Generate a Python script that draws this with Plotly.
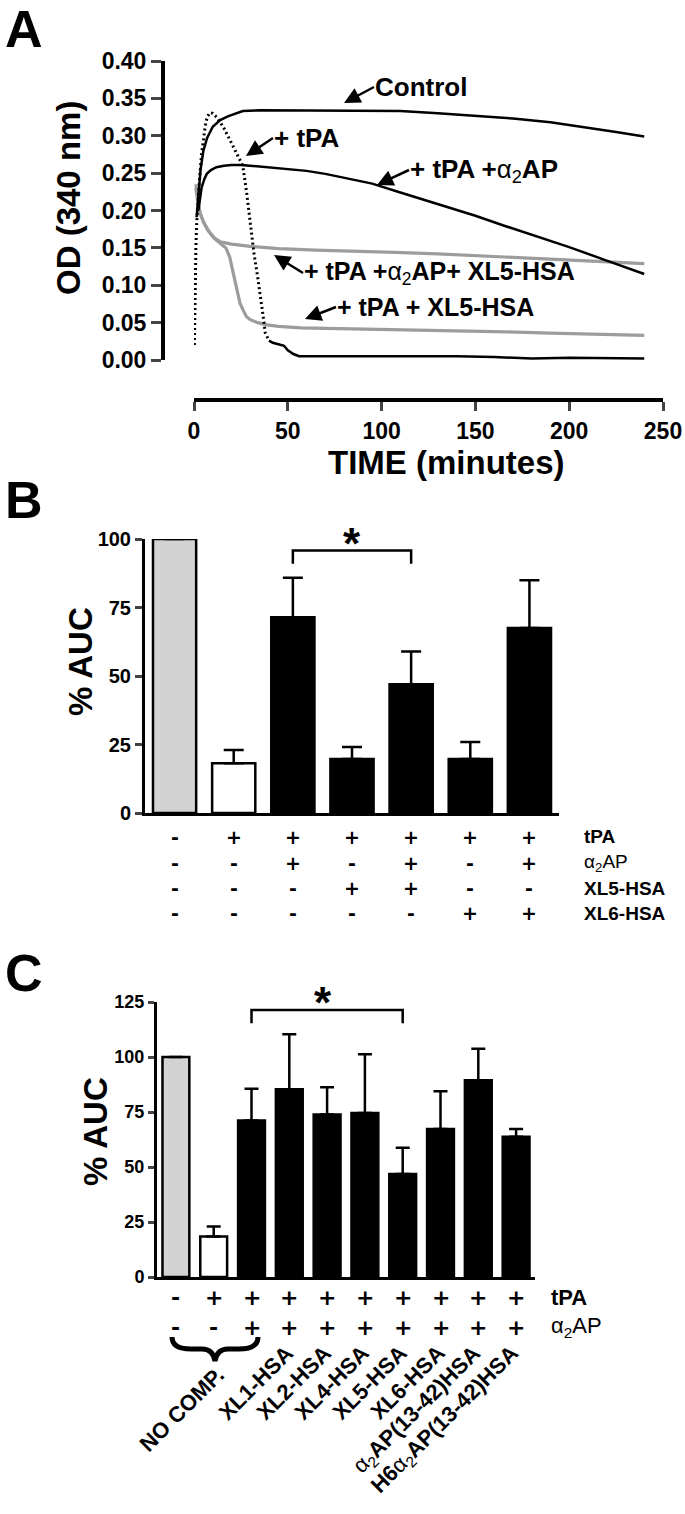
import plotly.graph_objects as go

W, H = 685, 1514
FONT = "Liberation Sans, Arial, Helvetica, sans-serif"
SIGN_FONT = "DejaVu Sans, Liberation Sans, sans-serif"

# ---------------- Panel A data (time in minutes, OD 340 nm) ----------------
ctrl_t = [1.4, 2.5, 3.5, 5, 7, 10, 14, 18, 22, 26, 35, 50, 70, 90, 110, 130, 150, 170, 190, 210, 225, 240]
ctrl_od = [0.191, 0.225, 0.255, 0.280, 0.297, 0.312, 0.321, 0.326, 0.330, 0.333, 0.334, 0.334, 0.334, 0.334,
           0.333, 0.330, 0.327, 0.323, 0.318, 0.311, 0.305, 0.299]

tpa_t = [0.2, 0.4, 0.6, 1.0, 1.4, 2.2, 3.2, 4.0, 5.0, 6.0, 7.0, 8.5, 10, 12, 14, 16, 18, 20, 22, 24,
         26, 28, 30, 32, 34, 36, 37, 38, 40, 42, 45, 48, 50, 53, 56, 60, 80, 100, 120, 140,
         160, 180, 200, 220, 240]
tpa_od = [0.020, 0.060, 0.115, 0.150, 0.182, 0.220, 0.250, 0.275, 0.298, 0.313, 0.325, 0.331, 0.330, 0.325,
          0.318, 0.310, 0.300, 0.290, 0.280, 0.272, 0.260, 0.225, 0.180, 0.142, 0.110, 0.078, 0.056, 0.036,
          0.026, 0.023, 0.021, 0.019, 0.013, 0.008, 0.005, 0.005, 0.006, 0.005, 0.006, 0.005,
          0.004, 0.002, 0.003, 0.002, 0.002]

a2ap_t = [2.3, 3, 4.1, 5.5, 6.8, 9, 12, 16, 20, 25, 30, 40, 50, 60, 70, 80, 95, 110, 130, 150, 165, 180, 200, 220, 240]
a2ap_od = [0.200, 0.215, 0.231, 0.242, 0.249, 0.254, 0.258, 0.260, 0.261, 0.261, 0.260, 0.258, 0.256, 0.253,
           0.249, 0.244, 0.236, 0.224, 0.209, 0.193, 0.180, 0.168, 0.151, 0.133, 0.115]

a2ap_xl5_t = [1.0, 1.6, 2.4, 3.2, 5, 7, 8.5, 11, 14, 20, 30, 45, 65, 85, 107, 130, 155, 177, 200, 220, 240]
a2ap_xl5_od = [0.235, 0.223, 0.210, 0.197, 0.185, 0.175, 0.170, 0.163, 0.158, 0.155, 0.152, 0.149, 0.147,
               0.146, 0.144, 0.142, 0.139, 0.137, 0.134, 0.131, 0.129]

xl5_t = [1.0, 1.6, 2.4, 3.2, 5, 8, 10, 12, 14.5, 17, 19, 21, 23, 24.5, 26.5, 28, 30, 34, 39, 45, 57,
         80, 100, 130, 160, 190, 215, 240]
xl5_od = [0.230, 0.215, 0.205, 0.197, 0.185, 0.172, 0.165, 0.160, 0.155, 0.150, 0.138, 0.116, 0.092, 0.076,
          0.065, 0.058, 0.054, 0.050, 0.047, 0.045, 0.043, 0.042, 0.041, 0.040, 0.038, 0.036, 0.035, 0.033]

a_x_ticks = [0, 50, 100, 150, 200, 250]
a_y_ticks = [0.00, 0.05, 0.10, 0.15, 0.20, 0.25, 0.30, 0.35, 0.40]

# ---------------- Panel B data (% AUC) ----------------
b_mean = [100, 18.2, 71.4, 19.7, 47.0, 19.7, 67.5]
b_err = [None, 4.8, 14.5, 4.4, 11.9, 6.2, 17.4]
b_tpa = ['-', '+', '+', '+', '+', '+', '+']
b_a2ap = ['-', '-', '+', '-', '+', '-', '+']
b_xl5 = ['-', '-', '-', '+', '+', '-', '-']
b_xl6 = ['-', '-', '-', '-', '-', '+', '+']
b_y_ticks = [0, 25, 50, 75, 100]

# ---------------- Panel C data (% AUC) ----------------
c_mean = [100, 18.4, 71.1, 85.3, 73.9, 74.5, 46.8, 67.3, 89.4, 63.8]
c_err = [None, 4.5, 14.5, 25.0, 12.3, 26.7, 12.0, 17.1, 14.4, 3.5]
c_tpa = ['-', '+', '+', '+', '+', '+', '+', '+', '+', '+']
c_a2ap = ['-', '-', '+', '+', '+', '+', '+', '+', '+', '+']
c_comp = ['NO COMP.', 'XL1-HSA', 'XL2-HSA', 'XL4-HSA', 'XL5-HSA', 'XL6-HSA',
          'α<sub>2</sub>AP(13-42)HSA', 'H6α<sub>2</sub>AP(13-42)HSA']
c_y_ticks = [0, 25, 50, 75, 100, 125]


def px_x(px):
    return px / W


def px_y(py):
    return 1 - py / H


fig = go.Figure()

# ---- Panel A traces ----
BLACK_LINE = dict(color='black', width=2.5)
GRAY_LINE = dict(color='#9c9c9c', width=3.2)
fig.add_trace(go.Scatter(x=a2ap_xl5_t, y=a2ap_xl5_od, mode='lines', line=GRAY_LINE, xaxis='x', yaxis='y'))
fig.add_trace(go.Scatter(x=xl5_t, y=xl5_od, mode='lines', line=GRAY_LINE, xaxis='x', yaxis='y'))
fig.add_trace(go.Scatter(x=ctrl_t, y=ctrl_od, mode='lines', line=BLACK_LINE, xaxis='x', yaxis='y'))
fig.add_trace(go.Scatter(x=a2ap_t, y=a2ap_od, mode='lines', line=BLACK_LINE, xaxis='x', yaxis='y'))
split = next(i for i, t in enumerate(tpa_t) if t >= 40)
fig.add_trace(go.Scatter(x=tpa_t[:split + 1], y=tpa_od[:split + 1], mode='lines',
                         line=dict(color='black', width=3, dash='2px,3px'), xaxis='x', yaxis='y'))
fig.add_trace(go.Scatter(x=tpa_t[split:], y=tpa_od[split:], mode='lines', line=BLACK_LINE,
                         xaxis='x', yaxis='y'))


def bar_fills(n):
    return ['#d3d3d3', 'white'] + ['black'] * (n - 2)


# ---- Panel B bars ----
fig.add_trace(go.Bar(
    x=list(range(len(b_mean))), y=b_mean, width=0.73,
    marker=dict(color=bar_fills(len(b_mean)), line=dict(color='black', width=2.5)),
    error_y=dict(type='data', array=b_err, arrayminus=[0] * len(b_mean), symmetric=False,
                 color='black', thickness=2.5, width=10),
    cliponaxis=False, xaxis='x2', yaxis='y2'))

# ---- Panel C bars ----
fig.add_trace(go.Bar(
    x=list(range(len(c_mean))), y=c_mean, width=0.71,
    marker=dict(color=bar_fills(len(c_mean)), line=dict(color='black', width=2.5)),
    error_y=dict(type='data', array=c_err, arrayminus=[0] * len(c_mean), symmetric=False,
                 color='black', thickness=2.5, width=7),
    cliponaxis=False, xaxis='x3', yaxis='y3'))

ann = []


def txt(x, y, text, size, xanchor='center', yanchor='middle', xref='paper', yref='paper', angle=0,
        family=FONT, **kw):
    ann.append(dict(x=x, y=y, xref=xref, yref=yref, text=text, showarrow=False,
                    xanchor=xanchor, yanchor=yanchor, textangle=angle,
                    font=dict(family=family, size=size, color='black'), **kw))


def label_arrow(text, px_tip, py_tip, px_text_left, py_text_mid, size=26):
    """Text whose left-middle point is the tail of an arrow pointing at (px_tip, py_tip)."""
    ann.append(dict(x=px_x(px_tip), y=px_y(py_tip), xref='paper', yref='paper', text=text,
                    showarrow=True, ax=px_text_left - px_tip, ay=py_text_mid - py_tip,
                    xanchor='left', yanchor='middle', arrowhead=2, arrowsize=1.3, arrowwidth=2.5,
                    arrowcolor='black', standoff=0, borderpad=0,
                    font=dict(family=FONT, size=size, color='black')))


# Panel letters
txt(px_x(3), px_y(29), '<b>A</b>', 52, xanchor='left')
txt(px_x(3), px_y(500), '<b>B</b>', 52, xanchor='left')
txt(px_x(3), px_y(973), '<b>C</b>', 52, xanchor='left')

# Panel A titles
txt(px_x(68), px_y(198), '<b>OD (340 nm)</b>', 33, angle=-90)
txt(px_x(447), px_y(462), '<b>TIME (minutes)</b>', 33)

# Panel A curve labels with arrows
label_arrow('<b>Control</b>', 344, 103, 374, 87)
label_arrow('<b>+ tPA</b>', 246, 156, 273, 138)
label_arrow('<b>+ tPA +</b>α<sub>2</sub><b>AP</b>', 377, 185, 409, 170)
label_arrow('<b>+ tPA +</b>α<sub>2</sub><b>AP+ XL5-HSA</b>', 274, 255, 303, 273, size=25)
label_arrow('<b>+ tPA + XL5-HSA</b>', 305, 319, 336, 307, size=25)

# Panel B titles / table
txt(px_x(80), px_y(662), '<b>% AUC</b>', 33, angle=-90)
b_rows = [('<b>tPA</b>', b_tpa, 837), ('α<sub>2</sub>AP', b_a2ap, 863),
          ('<b>XL5-HSA</b>', b_xl5, 888), ('<b>XL6-HSA</b>', b_xl6, 913)]
for label, signs, ry in b_rows:
    for i, s in enumerate(signs):
        txt(i, px_y(ry), f'<b>{s}</b>', 19, xref='x2', family=SIGN_FONT)
    txt(px_x(582), px_y(ry), label, 19, xanchor='left')
txt(3, px_y(543), '<b>*</b>', 44, xref='x2')

# Panel C titles / table
txt(px_x(95), px_y(1132), '<b>% AUC</b>', 33, angle=-90)
c_rows = [('<b>tPA</b>', c_tpa, 1297), ('α<sub>2</sub>AP', c_a2ap, 1327)]
for label, signs, ry in c_rows:
    for i, s in enumerate(signs):
        txt(i, px_y(ry), f'<b>{s}</b>', 22, xref='x3', family=SIGN_FONT)
    txt(px_x(549), px_y(ry), label, 22, xanchor='left')
txt(3.9, px_y(1002), '<b>*</b>', 44, xref='x3')

# rotated compound labels
comp_cols = [1] + list(range(3, len(c_mean)))
for col, lab in zip(comp_cols, c_comp):
    if lab.startswith('H6'):
        lab_html = '<b>H6</b>α<sub>2</sub><b>AP(13-42)HSA</b>'
    elif lab.startswith('α'):
        lab_html = 'α<sub>2</sub><b>AP(13-42)HSA</b>'
    else:
        lab_html = f'<b>{lab}</b>'
    y0 = 1360 if col == 1 else 1338
    txt(col, px_y(y0), lab_html, 22, xanchor='right', yanchor='top', xref='x3', angle=-45,
        xshift=18 if col == 1 else 12)

shapes = [
    # significance brackets
    dict(type='path', xref='x2', yref='y2', path='M 2,91 L 2,95.8 L 4,95.8 L 4,91',
         line=dict(color='black', width=2.5)),
    dict(type='path', xref='x3', yref='y3', path='M 2,115.3 L 2,121.4 L 6,121.4 L 6,115.3',
         line=dict(color='black', width=2.5)),
]
# curly brace under the first three columns of panel C
brace = (f'M {px_x(172)},{px_y(1337)} Q {px_x(172)},{px_y(1349)} {px_x(191)},{px_y(1349)} '
         f'L {px_x(202)},{px_y(1349)} Q {px_x(213)},{px_y(1349)} {px_x(215)},{px_y(1361)} '
         f'Q {px_x(217)},{px_y(1349)} {px_x(228)},{px_y(1349)} L {px_x(239)},{px_y(1349)} '
         f'Q {px_x(258)},{px_y(1349)} {px_x(258)},{px_y(1337)}')
shapes.append(dict(type='path', xref='paper', yref='paper', path=brace, line=dict(color='black', width=5)))

TICKFONT_A = dict(family=FONT, size=23, color='black', weight='bold')

fig.update_layout(
    width=W, height=H, autosize=False,
    margin=dict(l=0, r=0, t=0, b=0, autoexpand=False),
    paper_bgcolor='white', plot_bgcolor='white', showlegend=False,
    font=dict(family=FONT, color='black'),
    xaxis=dict(domain=[px_x(194), px_x(663)], range=[0, 250], anchor='free', position=px_y(400),
               tickvals=a_x_ticks, ticks='outside', ticklen=9, tickwidth=3, showline=True,
               linewidth=4, linecolor='black', showgrid=False, zeroline=False, tickfont=TICKFONT_A),
    yaxis=dict(domain=[px_y(360), px_y(61)], range=[0, 0.4], anchor='free', position=px_x(163),
               tickvals=a_y_ticks, ticktext=[f'{v:.2f}' for v in a_y_ticks], ticks='outside',
               ticklen=10, tickwidth=3, showline=True, linewidth=4, linecolor='black',
               showgrid=False, zeroline=False, tickfont=TICKFONT_A),
    xaxis2=dict(domain=[px_x(145), px_x(559)], range=[-0.5, 6.5], anchor='y2', showline=True,
                linewidth=3, linecolor='black', showticklabels=False, ticks='', showgrid=False,
                zeroline=False),
    yaxis2=dict(domain=[px_y(813), px_y(539)], range=[0, 100], anchor='x2', tickvals=b_y_ticks,
                ticks='outside', ticklen=7, tickwidth=2.5, showline=True, linewidth=3,
                linecolor='black', showgrid=False, zeroline=False,
                tickfont=dict(family=FONT, size=20, color='black', weight='bold')),
    xaxis3=dict(domain=[px_x(157), px_x(535)], range=[-0.5, 9.5], anchor='y3', showline=True,
                linewidth=3, linecolor='black', showticklabels=False, ticks='', showgrid=False,
                zeroline=False),
    yaxis3=dict(domain=[px_y(1277), px_y(1002)], range=[0, 125], anchor='x3', tickvals=c_y_ticks,
                ticks='outside', ticklen=6, tickwidth=2.5, showline=True, linewidth=3,
                linecolor='black', showgrid=False, zeroline=False,
                tickfont=dict(family=FONT, size=18, color='black', weight='bold')),
    annotations=ann,
    shapes=shapes,
)

fig.write_html("out.html", config={'displayModeBar': False},
               post_script="document.body.style.margin='0px';")
